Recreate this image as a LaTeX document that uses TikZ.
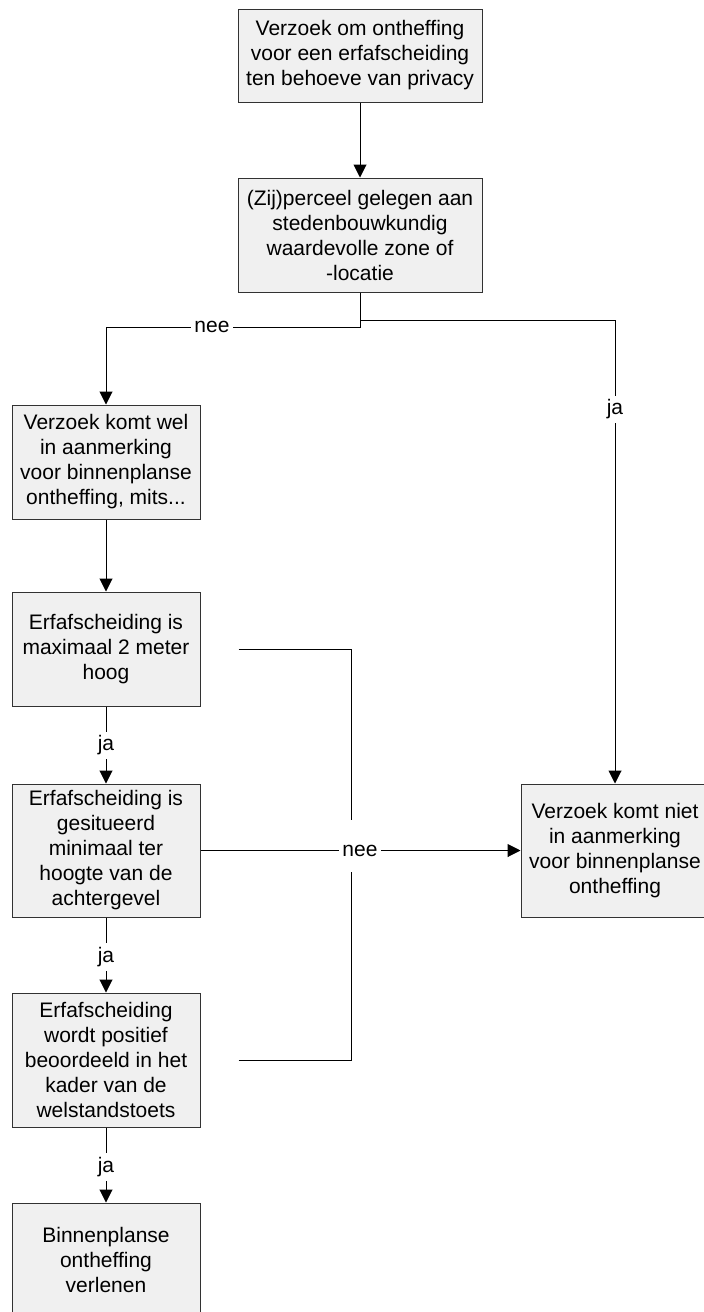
\documentclass[tikz,border=0pt]{standalone}
\usepackage{fontspec}
\setmainfont{Liberation Sans}
\usetikzlibrary{arrows.meta}
\definecolor{boxfill}{RGB}{240,240,240}
\definecolor{boxline}{RGB}{50,50,50}
\tikzset{
  box/.style={draw=boxline, fill=boxfill, line width=0.5pt, align=center, inner sep=0pt},
  wide/.style={box, minimum width=122pt},
  narrow/.style={box, minimum width=94pt},
  conn/.style={draw=black, line width=0.5pt},
  arr/.style={conn, -{Triangle[length=6.5pt,width=6.5pt]}},
  lbl/.style={fill=white, inner xsep=1.5pt, inner ysep=2pt}
}
\begin{document}
\begin{tikzpicture}[x=0.5pt,y=-0.5pt,font=\fontsize{10.5pt}{12.5pt}\selectfont]
\path[use as bounding box] (0,0) rectangle (704,1312);
\clip (0,0) rectangle (704,1312);

\node[wide, minimum height=46.5pt] (b1) at (360,55.5) {Verzoek om ontheffing\\voor een erfafscheiding\\ten behoeve van privacy};
\node[wide, minimum height=57pt] (b2) at (360,235) {(Zij)perceel gelegen aan\\stedenbouwkundig\\waardevolle zone of\\-locatie};
\node[narrow, minimum height=57pt] (b3) at (106,462) {Verzoek komt wel\\in aanmerking\\voor binnenplanse\\ontheffing, mits...};
\node[narrow, minimum height=57pt] (b4) at (106,649) {Erfafscheiding is\\maximaal 2 meter\\hoog};
\node[narrow, minimum height=66.5pt] (b5) at (106,850.5) {Erfafscheiding is\\gesitueerd\\minimaal ter\\hoogte van de\\achtergevel};
\node[narrow, minimum height=67pt] (b6) at (106,1060) {Erfafscheiding\\wordt positief\\beoordeeld in het\\kader van de\\welstandstoets};
\node[narrow, minimum height=57pt] (b7) at (106,1260) {Binnenplanse\\ontheffing\\verlenen};
\node[narrow, minimum height=66.5pt] (r) at (615,850.5) {Verzoek komt niet\\in aanmerking\\voor binnenplanse\\ontheffing};

\coordinate (q4) at (351,820);
\coordinate (q6) at (351,872);

\draw[arr] (b1) -- (b2);
\draw[arr] (b2.south) -- ++(0,35) -| (b3.north);
\draw[arr] (b2.south) -- ++(0,28) -| (r.north);
\draw[arr] (b3) -- (b4);
\draw[arr] (b4) -- (b5);
\draw[arr] (b5) -- (b6);
\draw[arr] (b6) -- (b7);
\draw[arr] (b5.east) -- (r.west);
\draw[conn] ([xshift=19pt]b4.east) -| (q4);
\draw[conn] ([xshift=19pt]b6.east) -| (q6);

\node[lbl] (l1) at (212,327) {nee};
\node[lbl] (l2) at (615,409.5) {ja};
\node[lbl] (l3) at (106,745.5) {ja};
\node[lbl] (l4) at (106,957) {ja};
\node[lbl] (l5) at (106,1167) {ja};
\node[lbl] (l6) at (360,850.5) {nee};
\end{tikzpicture}
\end{document}
